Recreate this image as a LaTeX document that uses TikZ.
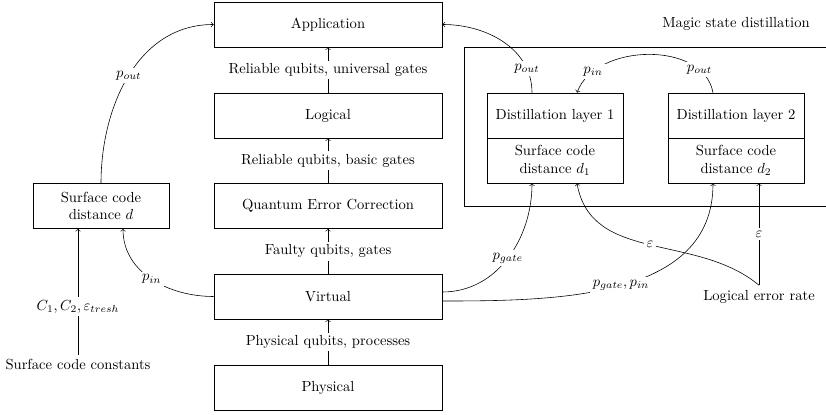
\documentclass[tikz,border=0pt]{standalone}
\usetikzlibrary{calc}
\begin{document}
\begin{tikzpicture}[x=0.685pt,y=-0.685pt,>=to,
  layer/.style={draw, minimum width=156.2pt, minimum height=30.8pt, inner sep=0pt},
  sidebox/.style={draw, minimum width=93.2pt, minimum height=30.8pt, inner sep=0pt, align=center},
  lbl/.style={fill=white, inner sep=2pt}]
\useasboundingbox (0,0) rectangle (826,414);

% abstraction stack
\node[layer] (app)  at (328,24.5)  {Application};
\node[layer] (log)  at (328,115.5) {Logical};
\node[layer] (qec)  at (328,206)   {Quantum Error Correction};
\node[layer] (virt) at (328,296.5) {Virtual};
\node[layer] (phys) at (328,387.5) {Physical};

\draw[->] (phys) -- node[lbl]{Physical qubits, processes} (virt);
\draw[->] (virt) -- node[lbl]{Faulty qubits, gates} (qec);
\draw[->] (qec)  -- node[lbl]{Reliable qubits, basic gates} (log);
\draw[->] (log)  -- node[lbl]{Reliable qubits, universal gates} (app);

% surface code estimate
\node[sidebox] (sc) at (101,206) {Surface code\\distance $d$};
\node (scc) at (78,365) {Surface code constants};
\draw[->] (scc.north) -- node[lbl,pos=0.38]{$C_1, C_2, \varepsilon_{tresh}$} (scc.north |- sc.south);
\draw[->] (sc.north) to[out=90,in=180] node[lbl]{$p_{out}$} (app.west);
\draw[->] (virt.west) to[out=180,in=-90] node[lbl]{$p_{in}$} ($(sc.south)+(22,0)$);

% magic state distillation
\node (mag) at (736,24) {Magic state distillation};
\draw (826,47) -- (464,47) -- (464,206) -- (826,206);
\node[sidebox] (dl1) at (555,115.5) {Distillation layer 1};
\node[sidebox] (sc1) at (555,160.5) {Surface code\\distance $d_1$};
\node[sidebox] (dl2) at (736,115.5) {Distillation layer 2};
\node[sidebox] (sc2) at (736,160.5) {Surface code\\distance $d_2$};

\draw[->] ($(dl1.north)+(-23,0)$) to[out=90,in=0] node[lbl,pos=0.2]{$p_{out}$} (app.east);
\draw[->] ($(dl2.north)+(-23,0)$) to[out=100,in=70]
  node[lbl,pos=0.18]{$p_{out}$} node[lbl,pos=0.83]{$p_{in}$} ($(dl1.north)+(22,0)$);

\draw[->] ($(virt.east)+(0,-4.5)$) to[out=0,in=-90] node[lbl]{$p_{gate}$} ($(sc1.south)+(-23,0)$);
\draw[->] ($(virt.east)+(0,4.5)$) to[out=0,in=-90] node[lbl]{$p_{gate}, p_{in}$} ($(sc2.south)+(-23,0)$);

% logical error rate feedback
\node (ler) at (759,297) {Logical error rate};
\draw[->] (ler.north) to[out=140,in=-80] node[lbl]{$\varepsilon$} ($(sc1.south)+(22,0)$);
\draw[->] (ler.north) -- node[lbl]{$\varepsilon$} (ler.north |- sc2.south);
\end{tikzpicture}
\end{document}
